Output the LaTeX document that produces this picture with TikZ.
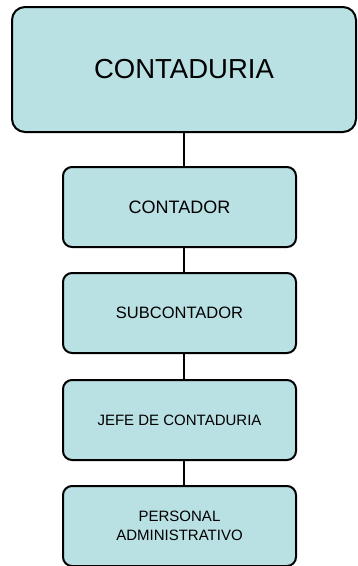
\documentclass[tikz,border=0pt]{standalone}
\usepackage{fontspec}
\setmainfont{Liberation Sans}
\definecolor{boxfill}{RGB}{185,224,227}
\begin{document}
\begin{tikzpicture}[x=1pt,y=1pt,
  orgbox/.style={draw=black, line width=2pt, fill=boxfill, rounded corners=9pt,
    inner sep=0pt, align=center, minimum width=233pt, minimum height=80pt},
  topbox/.style={orgbox, rounded corners=13pt, minimum width=344pt, minimum height=125pt},
  link/.style={draw=black, line width=2pt}]
\useasboundingbox (0,0) rectangle (357,-566);
\node[topbox, font=\fontsize{27.5}{32}\selectfont] (top) at (184,-69.5) {CONTADURIA};
\node[orgbox, font=\fontsize{18}{22}\selectfont] (c1) at (179.5,-207) {CONTADOR};
\node[orgbox, font=\fontsize{16.5}{20}\selectfont] (c2) at (179.5,-313) {SUBCONTADOR};
\node[orgbox, font=\fontsize{15}{19}\selectfont] (c3) at (179.5,-420) {JEFE DE CONTADURIA};
\node[orgbox, font=\fontsize{15}{19}\selectfont] (c4) at (179.5,-526) {PERSONAL\\ADMINISTRATIVO};
\draw[link] (top.south) -- (top.south |- c1.north);
\draw[link] (top.south |- c1.south) -- (top.south |- c2.north);
\draw[link] (top.south |- c2.south) -- (top.south |- c3.north);
\draw[link] (top.south |- c3.south) -- (top.south |- c4.north);
\end{tikzpicture}
\end{document}
